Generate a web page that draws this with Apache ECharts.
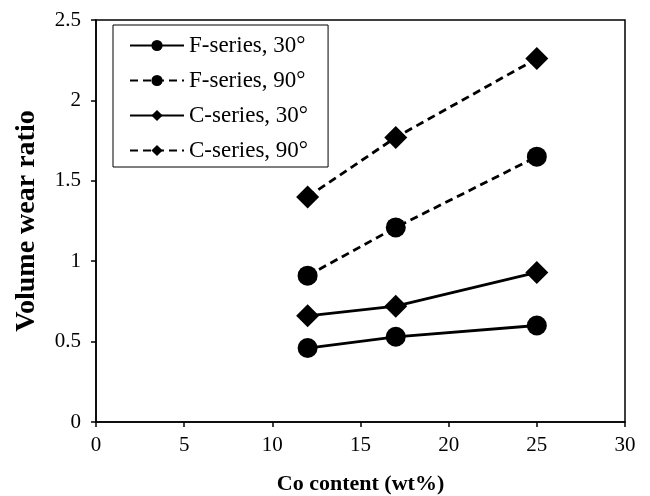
<!DOCTYPE html>
<html>
<head>
<meta charset="utf-8">
<script src="https://cdn.jsdelivr.net/npm/echarts@6/dist/echarts.min.js"></script>
<style>
html,body{margin:0;padding:0;background:#fff;}
#main{width:650px;height:496px;}
</style>
</head>
<body>
<div id="main"></div>
<script>
var coContent = [12, 17, 25];
var fSeries30 = [0.46, 0.53, 0.60];
var fSeries90 = [0.91, 1.21, 1.65];
var cSeries30 = [0.66, 0.72, 0.93];
var cSeries90 = [1.40, 1.77, 2.26];
var seriesNames = ['F-series, 30°', 'F-series, 90°', 'C-series, 30°', 'C-series, 90°'];

function pairs(ys) {
    var out = [];
    for (var i = 0; i < coContent.length; i++) {
        out.push([coContent[i], ys[i]]);
    }
    return out;
}

function makeSeries(name, ys, symbol, dashed) {
    return {
        name: name,
        type: 'line',
        data: pairs(ys),
        symbol: symbol,
        symbolSize: symbol == 'circle' ? 20 : 23,
        itemStyle: {color: '#000'},
        lineStyle: {color: '#000', width: 2.8, type: dashed ? [8, 5] : 'solid'},
        emphasis: {disabled: true},
        z: 3
    };
}

var font = 'Liberation Serif, Times New Roman, serif';
var chart = echarts.init(document.getElementById('main'));
chart.setOption({
    animation: false,
    backgroundColor: '#fff',
    textStyle: {fontFamily: font},
    grid: {left: 96, right: 25, top: 20, bottom: 74, outerBoundsMode: 'none', containLabel: false,
        show: true, borderColor: '#000', borderWidth: 1.5},
    legend: {
        data: seriesNames,
        orient: 'vertical',
        left: 113,
        top: 25,
        padding: [9, 20, 5, 16],
        itemGap: 12,
        itemWidth: 54,
        itemHeight: 14,
        borderColor: '#000',
        borderWidth: 1,
        backgroundColor: '#fff',
        textStyle: {fontFamily: font, fontSize: 23, color: '#000'},
        z: 10
    },
    xAxis: {
        type: 'value',
        min: 0,
        max: 30,
        interval: 5,
        name: 'Co content (wt%)',
        nameLocation: 'middle',
        nameGap: 51,
        nameTextStyle: {fontFamily: font, fontSize: 22, fontWeight: 'bold', color: '#000'},
        axisLine: {onZero: false, lineStyle: {color: '#000', width: 1.5}},
        axisTick: {show: true, inside: false, length: 5, lineStyle: {color: '#000', width: 1.5}},
        axisLabel: {fontFamily: font, fontSize: 21, color: '#000', margin: 13},
        splitLine: {show: false}
    },
    yAxis: {
        type: 'value',
        min: 0,
        max: 2.5,
        interval: 0.5,
        name: 'Volume wear ratio',
        nameLocation: 'middle',
        nameGap: 55,
        nameTextStyle: {fontFamily: font, fontSize: 28, fontWeight: 'bold', color: '#000'},
        axisLine: {show: true, lineStyle: {color: '#000', width: 1.5}},
        axisTick: {show: true, inside: false, length: 5, lineStyle: {color: '#000', width: 1.5}},
        axisLabel: {fontFamily: font, fontSize: 21, color: '#000', margin: 15},
        splitLine: {show: false}
    },
    series: [
        makeSeries(seriesNames[0], fSeries30, 'circle', false),
        makeSeries(seriesNames[1], fSeries90, 'circle', true),
        makeSeries(seriesNames[2], cSeries30, 'diamond', false),
        makeSeries(seriesNames[3], cSeries90, 'diamond', true)
    ]
});
</script>
</body>
</html>
